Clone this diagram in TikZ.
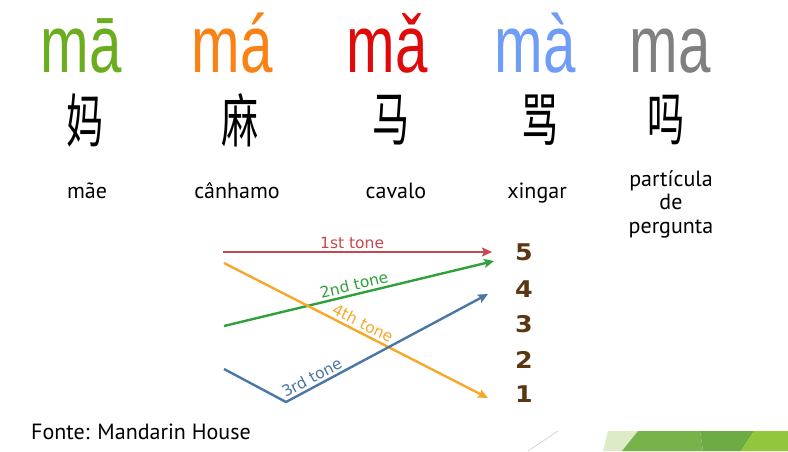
\documentclass[tikz,border=0pt]{standalone}
\usepackage{fontspec}
\setmainfont{PT Sans}
\newfontfamily\pinyinfont[FakeStretch=0.72]{Liberation Sans}
\newfontfamily\hanzifont[FakeStretch=0.64]{Noto Sans CJK SC}
\newfontfamily\tonefont{DejaVu Sans}
\newfontfamily\levelfont[FakeStretch=1.1]{DejaVu Sans}
\usetikzlibrary{arrows.meta}

\definecolor{pygreen}{HTML}{6AAE1F}
\definecolor{pyorange}{HTML}{FA8214}
\definecolor{pyred}{HTML}{E00A0A}
\definecolor{pyblue}{HTML}{6E9CF7}
\definecolor{pygray}{HTML}{808080}
\definecolor{tonered}{HTML}{C9474F}
\definecolor{tonegreen}{HTML}{30A03C}
\definecolor{toneorange}{HTML}{F5A82A}
\definecolor{toneblue}{HTML}{4A77A6}
\definecolor{levelbrown}{HTML}{5A3712}
\definecolor{barlight}{HTML}{DDECC6}
\definecolor{barmid}{HTML}{77B24B}
\definecolor{bardark}{HTML}{6DAC44}
\definecolor{barbright}{HTML}{92C63C}

\begin{document}
\begin{tikzpicture}[x=1pt,y=-1pt,>={Stealth[length=10pt,width=9pt,inset=2pt]},
  pinyin/.style={inner sep=0pt,anchor=base,font=\pinyinfont\fontsize{81}{81}\selectfont},
  hanzi/.style={inner sep=0pt,font=\hanzifont\fontsize{58}{58}\selectfont},
  meaning/.style={inner sep=0pt,anchor=base,font=\fontsize{22}{23.5}\selectfont},
  level/.style={inner sep=0pt,anchor=base,text=levelbrown,font=\levelfont\bfseries\fontsize{23}{23}\selectfont},
  tone/.style={line width=2.4pt},
  tonelabel/.style={sloped,above,inner sep=2.5pt,font=\tonefont\fontsize{15.5}{15.5}\selectfont}]
  \useasboundingbox (0,0) rectangle (788,451);

  \node[pinyin,text=pygreen] (P1) at (81,72) {mā};
  \node[pinyin,text=pyorange] (P2) at (232,72) {má};
  \node[pinyin,text=pyred] (P3) at (387,72) {mǎ};
  \node[pinyin,text=pyblue] (P4) at (535,72) {mà};
  \node[pinyin,text=pygray] (P5) at (670,72) {ma};

  \node[hanzi] (H1) at (85,120) {妈};
  \node[hanzi] (H2) at (240,120) {麻};
  \node[hanzi] (H3) at (391,120) {马};
  \node[hanzi] (H4) at (540,120) {骂};
  \node[hanzi] (H5) at (666,120) {吗};

  \node[meaning] (M1) at (87,198) {mãe};
  \node[meaning] (M2) at (237,198) {cânhamo};
  \node[meaning] (M3) at (396,198) {cavalo};
  \node[meaning] (M4) at (537,198) {xingar};
  \node[meaning,align=center] (M5) at (671,233) {partícula\\de\\pergunta};

  \node[level] (N5) at (524,260) {5};
  \node[level] (N4) at (524,297) {4};
  \node[level] (N3) at (524,332) {3};
  \node[level] (N2) at (524,368) {2};
  \node[level] (N1) at (524,402) {1};

  % tone contours
  \coordinate (T1a) at (223,252);
  \coordinate (T1b) at (492,252);
  \coordinate (T2a) at (224,326);
  \coordinate (T2b) at (494,261);
  \coordinate (T3a) at (224,369);
  \coordinate (T3b) at (286,402);
  \coordinate (T3c) at (488,294);
  \coordinate (T4a) at (224,263);
  \coordinate (T4b) at (488,398);

  \path[->] (T1a) edge[tone,tonered] node[tonelabel,pos=0.48] {1st tone} (T1b);
  \path[->] (T2a) edge[tone,tonegreen] node[tonelabel,pos=0.49] {2nd tone} (T2b);
  \path[->] (T4a) edge[tone,toneorange] node[tonelabel,pos=0.51] {4th tone} (T4b);
  \draw[->,tone,toneblue,line join=round] (T3a) -- (T3b) -- node[tonelabel,pos=0.15] {3rd tone} (T3c);

  \node[meaning,anchor=base west] (F) at (31,439) {Fonte: Mandarin House};

  % corner bars
  \draw[black!20,line width=0.6pt] (528,451) -- (558,431);
  \fill[barlight] (603,451) -- (608,431) -- (638,431) -- (622,451) -- cycle;
  \fill[barmid] (622,451) -- (638,431) -- (700,431) -- (703,451) -- cycle;
  \fill[bardark] (703,451) -- (700,431) -- (754,431) -- (741,451) -- cycle;
  \fill[barbright] (741,451) -- (754,431) -- (788,431) -- (788,451) -- cycle;
\end{tikzpicture}
\end{document}
